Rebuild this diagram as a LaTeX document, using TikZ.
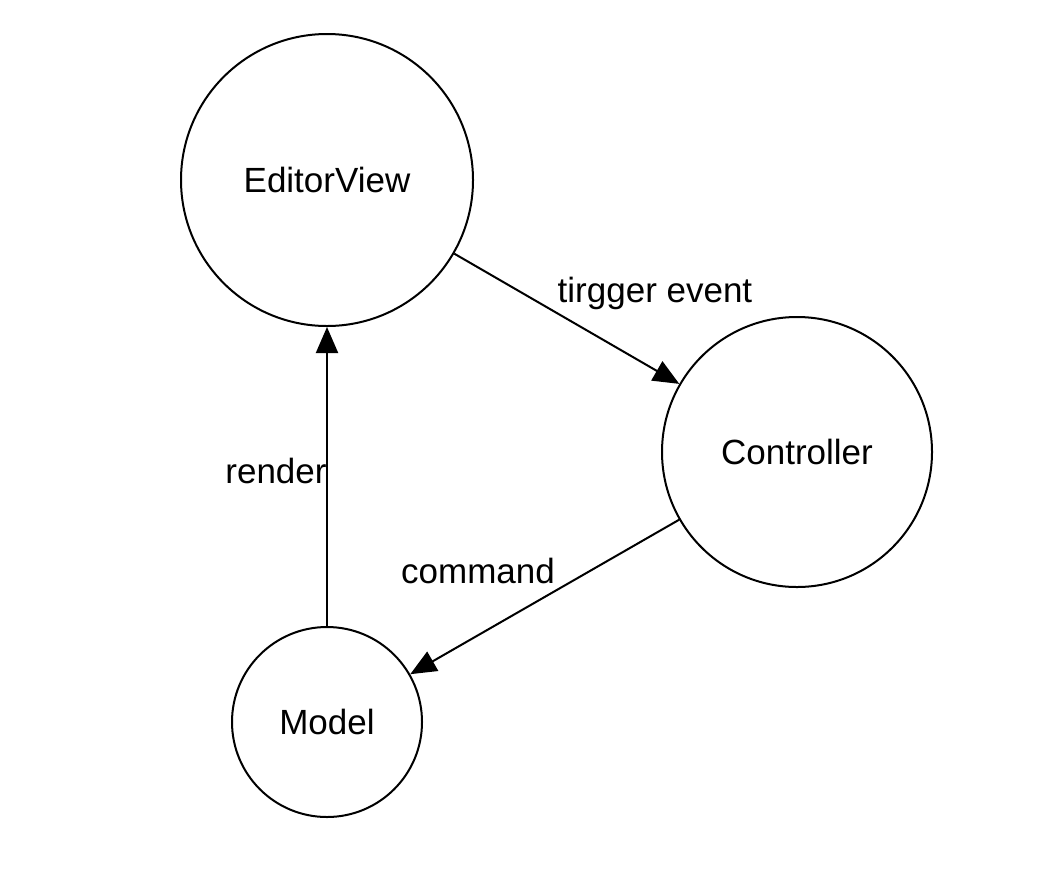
\documentclass[tikz,border=0pt]{standalone}
\usepackage{fontspec}
\setmainfont{Liberation Sans}
\usetikzlibrary{arrows.meta}
\begin{document}
\begin{tikzpicture}[x=1pt,y=-1pt,
  state/.style={draw,circle,line width=2pt,inner sep=0pt,font=\fontsize{35}{40}\selectfont},
  conn/.style={line width=2pt,-{Triangle[length=26pt,width=22pt]}},
  lbl/.style={font=\fontsize{35}{40}\selectfont,inner sep=0pt}]
\useasboundingbox (0,0) rectangle (1048,868);
\node[state,minimum size=292pt] (ev) at (327,180) {EditorView};
\node[state,minimum size=270pt] (ct) at (797,452) {Controller};
\node[state,minimum size=190pt] (md) at (327,722) {Model};
\draw[conn] (ev) -- (ct);
\draw[conn] (ct) -- (md);
\draw[conn] (md) -- (ev);
\node[lbl] (l1) at (655,293) {tirgger event};
\node[lbl] (l2) at (478,571) {command};
\node[lbl] (l3) at (276,471) {render};
\end{tikzpicture}
\end{document}
